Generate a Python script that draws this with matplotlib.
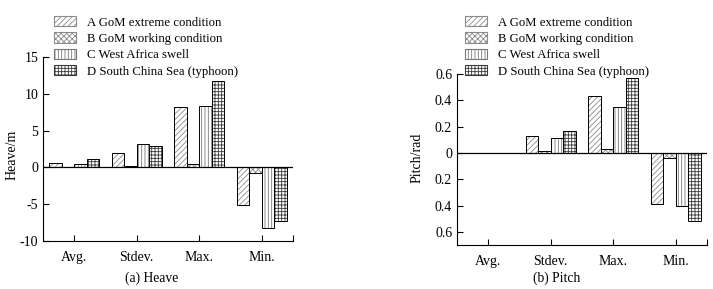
import matplotlib
matplotlib.use("Agg")
import matplotlib.pyplot as plt
import matplotlib.patches as mpatches
import numpy as np

categories = ["Avg.", "Stdev.", "Max.", "Min."]
series_names = ["A GoM extreme condition", "B GoM working condition",
                "C West Africa swell", "D South China Sea (typhoon)"]

heave_A = [0.6, 2.0, 8.25, -5.1]
heave_B = [0.05, 0.15, 0.5, -0.75]
heave_C = [0.4, 3.15, 8.35, -8.2]
heave_D = [1.15, 2.9, 11.8, -7.3]

pitch_A = [0.0, 0.13, 0.43, -0.39]
pitch_B = [0.0, 0.012, 0.033, -0.04]
pitch_C = [0.0, 0.115, 0.35, -0.40]
pitch_D = [0.0, 0.163, 0.57, -0.52]

heave_ticks = [-10, -5, 0, 5, 10, 15]
heave_ticklabels = ["-10", "-5", "0", "5", "10", "15"]
pitch_ticks = [-0.6, -0.4, -0.2, 0, 0.2, 0.4, 0.6]
pitch_ticklabels = ["0.6", "0.4", "0.2", "0", "0.2", "0.4", "0.6"]

plt.rcParams['font.family'] = ['Liberation Serif', 'DejaVu Serif']
plt.rcParams['hatch.linewidth'] = 0.6

hatches = ['//////', 'xxxxxx', '|||||', '+++++']
hatch_colors = ['#8a8a8a', '#8a8a8a', '#777777', '#3a3a3a']

fig = plt.figure(figsize=(7.13, 2.89), dpi=100)
W, H = 713, 289

def ax_rect(x0, x1, ytop, ybot):
    return [x0 / W, 1 - ybot / H, (x1 - x0) / W, (ybot - ytop) / H]

ax1 = fig.add_axes(ax_rect(43, 293, 57, 241))
ax2 = fig.add_axes(ax_rect(457, 707, 74, 245))

def draw(ax, data, ylim, yticks, yticklabels):
    x = np.arange(len(categories))
    w = 0.2
    for i, vals in enumerate(data):
        pos = x + (i - 1.5) * w
        ax.bar(pos, vals, w, color='white', edgecolor=hatch_colors[i],
               hatch=hatches[i], linewidth=0)
        ax.bar(pos, vals, w, color='none', edgecolor='black', linewidth=0.7)
    ax.axhline(0, color='black', linewidth=0.9, zorder=3)
    ax.set_xlim(-0.5, 3.5)
    ax.set_ylim(*ylim)
    ax.set_xticks(list(x) + [3.5])
    ax.set_xticklabels(categories + [""])
    ax.set_yticks(yticks)
    ax.set_yticklabels(yticklabels)
    ax.spines['top'].set_visible(False)
    ax.spines['right'].set_visible(False)
    ax.tick_params(direction='in', length=4, width=0.8, labelsize=10)
    ax.tick_params(axis='x', pad=7)

draw(ax1, [heave_A, heave_B, heave_C, heave_D], (-10, 15), heave_ticks, heave_ticklabels)
draw(ax2, [pitch_A, pitch_B, pitch_C, pitch_D], (-0.7, 0.6), pitch_ticks, pitch_ticklabels)

def legend_handles():
    return [mpatches.Patch(facecolor='white', edgecolor=hatch_colors[i], hatch=hatches[i],
                           linewidth=0.8, label=series_names[i]) for i in range(4)]

for xl in (54 / W, 465 / W):
    fig.legend(handles=legend_handles(), loc='upper left', bbox_to_anchor=(xl, 1 - 16 / H),
               frameon=False, fontsize=9.2, handlelength=1.75, handleheight=0.85,
               handletextpad=0.85, labelspacing=0.3, borderaxespad=0, borderpad=0)

fig.text(12 / W, 1 - 155 / H, "Heave/m", rotation=90, ha='center', va='center', fontsize=10)
fig.text(417 / W, 1 - 158 / H, "Pitch/rad", rotation=90, ha='center', va='center', fontsize=10)
fig.text(152 / W, 1 - 278 / H, "(a) Heave", ha='center', va='center', fontsize=9.8)
fig.text(557 / W, 1 - 278 / H, "(b) Pitch", ha='center', va='center', fontsize=9.8)

fig.savefig("out.png", dpi=100)
